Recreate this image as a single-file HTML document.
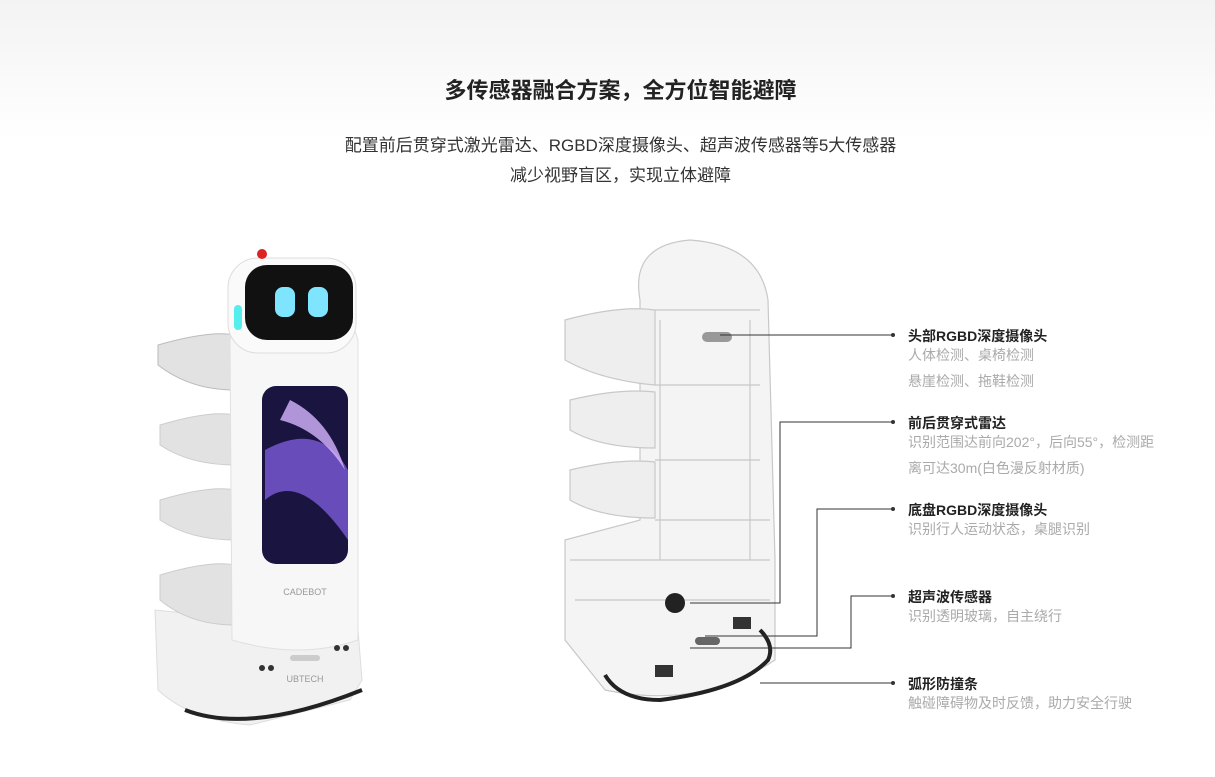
<!DOCTYPE html>
<html><head><meta charset="utf-8"><style>
body{margin:0;width:1215px;height:777px;overflow:hidden;background:linear-gradient(#f3f3f3 0,#fff 140px,#fff 100%);font-family:"Liberation Sans","Noto Sans CJK SC",sans-serif;position:relative}
.t{position:absolute;left:0;width:1189px;padding-left:26px;text-align:center}
.lb{position:absolute;left:908px;font-size:14px;color:#222;font-weight:bold}
.ds{position:absolute;left:908px;font-size:14px;color:#aaa;line-height:26px}
</style></head><body>
<div class="t" style="top:73px;font-size:22px;font-weight:bold;color:#222">多传感器融合方案，全方位智能避障</div>
<div class="t" style="top:131px;font-size:17px;color:#333;line-height:30px">配置前后贯穿式激光雷达、RGBD深度摄像头、超声波传感器等5大传感器<br>减少视野盲区，实现立体避障</div>
<svg width="1215" height="777" style="position:absolute;left:0;top:0">
<g>
<path d="M155 610 L158 690 Q190 720 250 725 L350 700 L362 680 L358 630 Z" fill="#f1f1f1" stroke="#ddd"/>
<path d="M185 710 Q250 735 362 690" stroke="#222" stroke-width="4" fill="none"/>
<path d="M160 575 Q210 560 235 565 L235 625 Q190 625 160 600 Z" fill="#e2e2e2" stroke="#ccc"/>
<path d="M160 500 Q210 485 235 490 L235 540 Q190 540 160 520 Z" fill="#e2e2e2" stroke="#ccc"/>
<path d="M160 425 Q210 410 235 415 L235 465 Q190 465 160 445 Z" fill="#e2e2e2" stroke="#ccc"/>
<path d="M158 345 Q210 330 235 335 L235 390 Q190 390 158 365 Z" fill="#e2e2e2" stroke="#bbb"/>
<path d="M230 340 L240 300 L345 300 L358 340 L358 640 Q300 660 232 640 Z" fill="#f7f7f7" stroke="#e0e0e0"/>
<rect x="262" y="386" width="86" height="178" rx="14" fill="#1a1440"/>
<path d="M265 450 Q320 420 348 470 L348 540 Q300 470 265 500Z" fill="#7b5ad8" opacity=".8"/>
<path d="M290 400 Q330 420 345 470 Q320 430 280 420Z" fill="#d7b5ff" opacity=".8"/>
<text x="305" y="595" font-size="9" fill="#999" text-anchor="middle">CADEBOT</text>
<text x="305" y="682" font-size="9" fill="#999" text-anchor="middle">UBTECH</text>
<rect x="228" y="258" width="128" height="95" rx="30" fill="#fafafa" stroke="#ddd"/>
<rect x="245" y="265" width="108" height="75" rx="22" fill="#111"/>
<rect x="275" y="287" width="20" height="30" rx="8" fill="#7fe5ff"/>
<rect x="308" y="287" width="20" height="30" rx="8" fill="#7fe5ff"/>
<circle cx="262" cy="254" r="5" fill="#d22"/>
<rect x="234" y="305" width="8" height="25" rx="4" fill="#5ee"/>
<circle cx="262" cy="668" r="3" fill="#333"/><circle cx="271" cy="668" r="3" fill="#333"/>
<circle cx="337" cy="648" r="3" fill="#333"/><circle cx="346" cy="648" r="3" fill="#333"/>
<rect x="290" y="655" width="30" height="6" rx="3" fill="#ccc"/>
</g>
<g fill="none" stroke="#c8c8c8" stroke-width="1.2">
<path d="M640 300 Q630 245 690 240 Q760 245 768 300 L775 560 L775 660 Q700 710 605 690 L565 640 L565 540 L640 520 Z" fill="#f4f4f4"/>
<path d="M565 320 Q620 305 655 310 L655 385 Q600 380 565 360 Z" fill="#eee"/>
<path d="M570 400 Q620 388 655 392 L655 448 Q600 448 570 430 Z" fill="#eee"/>
<path d="M570 470 Q620 458 655 462 L655 518 Q600 518 570 500 Z" fill="#eee"/>
<path d="M655 310 L760 310 M655 385 L760 385 M655 460 L760 460 M655 520 L770 520 M660 320 L660 560 M750 320 L750 560"/>
<path d="M570 560 L770 560 M575 600 L770 600"/>
</g>
<rect x="702" y="332" width="30" height="10" rx="5" fill="#999"/>
<circle cx="675" cy="603" r="10" fill="#222"/>
<rect x="655" y="665" width="18" height="12" fill="#333"/>
<rect x="733" y="617" width="18" height="12" fill="#333"/>
<rect x="695" y="637" width="25" height="8" rx="4" fill="#666"/>
<path d="M605 675 Q620 700 660 700 Q740 690 768 660 Q775 645 760 630" stroke="#222" stroke-width="4" fill="none"/>
<g stroke="#333" stroke-width="1" fill="none">
<path d="M720 335 H893"/>
<path d="M690 603 H780 V422 H893"/>
<path d="M705 636 H817 V509 H893"/>
<path d="M690 648 H851 V596 H893"/>
<path d="M760 683 H893"/>
</g>
<g fill="#333"><circle cx="893" cy="335" r="2"/><circle cx="893" cy="422" r="2"/><circle cx="893" cy="509" r="2"/><circle cx="893" cy="596" r="2"/><circle cx="893" cy="683" r="2"/></g>
</svg>
<div class="lb" style="top:326px">头部RGBD深度摄像头</div>
<div class="ds" style="top:342px">人体检测、桌椅检测<br>悬崖检测、拖鞋检测</div>
<div class="lb" style="top:413px">前后贯穿式雷达</div>
<div class="ds" style="top:429px">识别范围达前向202°，后向55°，检测距<br>离可达30m(白色漫反射材质)</div>
<div class="lb" style="top:500px">底盘RGBD深度摄像头</div>
<div class="ds" style="top:516px">识别行人运动状态，桌腿识别</div>
<div class="lb" style="top:587px">超声波传感器</div>
<div class="ds" style="top:603px">识别透明玻璃，自主绕行</div>
<div class="lb" style="top:674px">弧形防撞条</div>
<div class="ds" style="top:690px">触碰障碍物及时反馈，助力安全行驶</div>
</body></html>
